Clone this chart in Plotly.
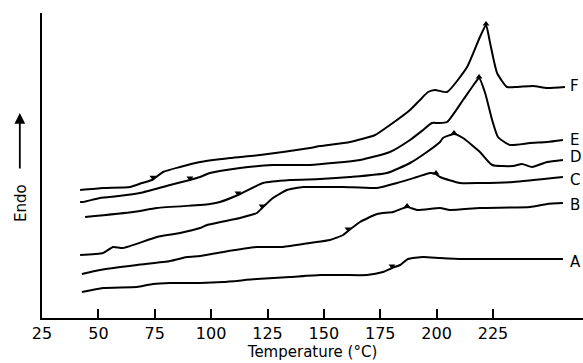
import numpy as np
import plotly.graph_objects as go

# Temperature (°C) and heat-flow signal (arbitrary units, endo up) for each trace
F_T = [41.9, 52.1, 64.0, 69.4, 73.8, 78.7, 86.2, 95.1, 108.4, 121.7, 143.8, 148.3, 161.6, 172.7, 179.3,
       188.2, 192.6, 196.2, 199.3, 204.6, 213.5, 219.2, 221.9, 223.7, 226.8, 231.2, 235.6, 242.7, 249.0, 256.9]
F_Y = [128, 130, 131, 135, 138, 146, 151, 156, 160, 163, 170, 172, 176, 183, 193,
       208, 218, 226, 228, 226, 251, 281, 293, 275, 245, 231, 231, 232, 230, 231]

E_T = [41.9, 43.2, 50.7, 59.0, 68.5, 81.8, 90.6, 95.1, 99.5, 112.8, 127.4, 143.8, 166.0, 179.3, 188.2,
       194.0, 197.9, 200.6, 204.6, 211.7, 217.0, 218.8, 221.5, 224.6, 227.2, 232.5, 241.4, 249.0, 256.0]
E_Y = [116, 116, 120, 122, 125, 133, 138, 141, 145, 150, 153, 153, 158, 166, 178,
       188, 195, 195, 196, 218, 235, 240, 225, 198, 181, 173, 175, 176, 178]

D_T = [44.1, 65.4, 76.0, 95.1, 99.5, 103.9, 111.9, 123.0, 135.0, 148.3, 161.6, 178.0, 188.2, 195.7,
       201.5, 202.8, 207.7, 211.7, 219.2, 224.6, 233.9, 237.9, 242.3, 249.0, 256.0]
D_Y = [101, 106, 110, 113, 114, 116, 123, 135, 138, 139, 141, 145, 155, 166,
       176, 180, 184, 180, 166, 153, 152, 154, 151, 156, 158]

C_T = [41.9, 52.1, 56.5, 60.9, 76.0, 86.2, 95.1, 98.2, 112.8, 120.3, 122.6, 127.4, 133.6, 140.7, 148.3,
       158.5, 173.6, 182.4, 191.3, 197.1, 199.7, 201.5, 210.4, 219.2, 233.9, 256.0]
C_Y = [63, 65, 71, 70, 81, 85, 90, 93, 100, 105, 110, 120, 128, 131, 131,
       131, 130, 135, 141, 145, 144, 141, 135, 135, 136, 141]

B_T = [42.7, 50.7, 67.1, 81.8, 89.3, 95.1, 105.3, 120.3, 131.9, 143.8, 152.7, 158.5, 160.7, 166.0,
       173.6, 180.7, 186.9, 191.3, 201.5, 205.9, 219.2, 241.4, 249.0, 256.0]
B_Y = [44, 48, 53, 57, 61, 62, 66, 71, 71, 75, 78, 83, 87, 96,
       104, 106, 111, 108, 110, 108, 110, 111, 114, 115]

A_T = [42.7, 52.1, 67.1, 74.2, 81.8, 95.1, 105.3, 120.3, 135.0, 148.3, 158.5, 169.1, 176.2,
       180.2, 183.8, 187.3, 194.0, 201.5, 211.7, 256.0]
A_Y = [26, 30, 31, 34, 35, 35, 36, 39, 41, 43, 43, 43, 46,
       50, 53, 59, 61, 60, 59, 59]

curve_names = ["F", "E", "D", "C", "B", "A"]
label_y = [232, 178, 161, 138, 113, 56]
tg_marks = [74.2, 90.6, 111.9, 122.6, 160.7, 180.2]
peak_marks = [221.9, 218.8, 207.7, 199.7, 186.9, None]

x_ticks = [25, 50, 75, 100, 125, 150, 175, 200, 225]

curves = [(F_T, F_Y), (E_T, E_Y), (D_T, D_Y), (C_T, C_Y), (B_T, B_Y), (A_T, A_Y)]

fig = go.Figure()
FONT = "DejaVu Sans, sans-serif"

for (T, Y), name, ly, tg, pk in zip(curves, curve_names, label_y, tg_marks, peak_marks):
    fig.add_trace(go.Scatter(x=T, y=Y, mode="lines",
                             line=dict(color="black", width=2, shape="spline", smoothing=0.5),
                             showlegend=False, hoverinfo="skip"))
    fig.add_trace(go.Scatter(x=[tg], y=[float(np.interp(tg, T, Y)) + 2], mode="markers",
                             marker=dict(symbol="triangle-down", size=6, color="black"),
                             showlegend=False, hoverinfo="skip"))
    if pk is not None:
        fig.add_trace(go.Scatter(x=[pk], y=[float(np.interp(pk, T, Y)) + 1], mode="markers",
                                 marker=dict(symbol="triangle-up", size=6, color="black"),
                                 showlegend=False, hoverinfo="skip"))
    fig.add_annotation(x=258.8, y=ly, text=name, showarrow=False, xanchor="left",
                       borderpad=0, font=dict(family=FONT, size=15, color="black"))

# "Endo" label with upward arrow
fig.add_annotation(xref="paper", yref="paper", x=-0.039, y=0.377, text="Endo", textangle=-90,
                   xanchor="center", yanchor="middle",
                   showarrow=False, font=dict(family=FONT, size=15, color="black"))
fig.add_annotation(xref="paper", yref="paper", x=-0.041, y=0.672, text="", showarrow=True,
                   ax=0, ay=57, arrowhead=2, arrowsize=1.2, arrowwidth=1.8, arrowcolor="black")

fig.update_layout(
    width=583, height=363,
    margin=dict(l=42, r=0, t=13, b=45),
    paper_bgcolor="white", plot_bgcolor="white",
    font=dict(family=FONT, color="black"),
    xaxis=dict(range=[25, 264.9], tickvals=x_ticks, ticktext=[str(v) for v in x_ticks],
               ticks="inside", ticklen=9, tickwidth=1.5, tickcolor="black",
               showline=True, linecolor="black", linewidth=1.5, showgrid=False, zeroline=False,
               tickfont=dict(family=FONT, size=16),
               title=dict(text="Temperature (°C)", font=dict(family=FONT, size=15), standoff=2)),
    yaxis=dict(range=[0, 305], showticklabels=False, ticks="", showline=True, linecolor="black",
               linewidth=1.5, showgrid=False, zeroline=False),
)

fig.write_html("out.html", config={"displayModeBar": False},
               post_script="document.body.style.margin='0';document.body.style.overflow='hidden';")
